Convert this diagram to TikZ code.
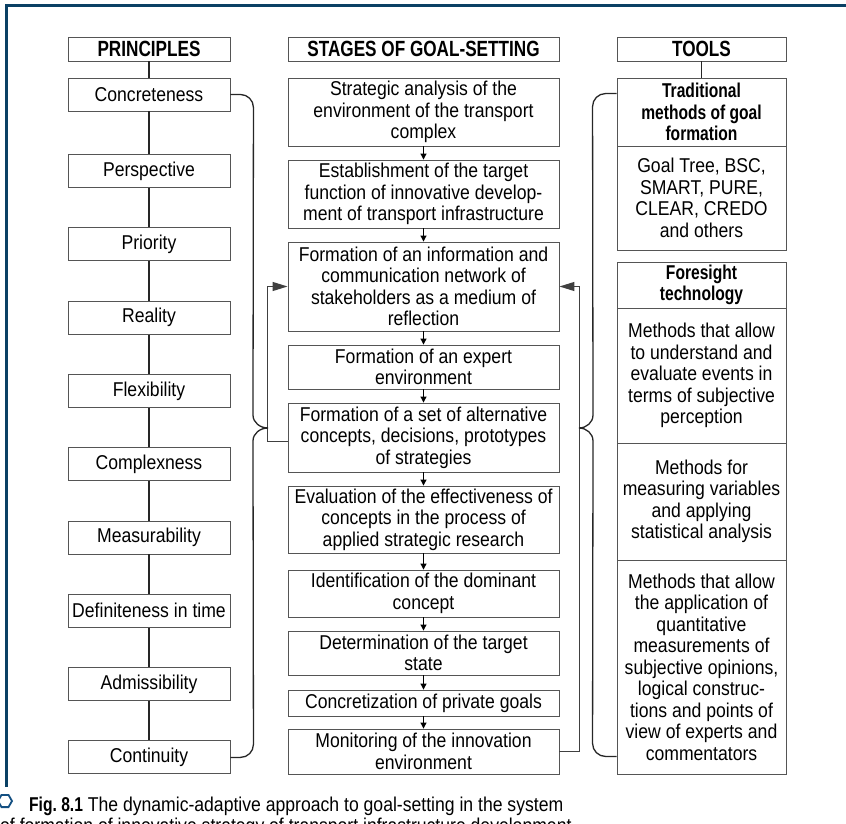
\documentclass[tikz,border=0pt]{standalone}
\usepackage{fontspec}
\setmainfont{Liberation Sans}[FakeStretch=0.88]
\newfontfamily\hdrfont{Liberation Sans}[FakeStretch=0.78]
\usetikzlibrary{arrows.meta,calc}
\definecolor{frameblue}{RGB}{10,64,100}
\definecolor{capblue}{RGB}{20,80,130}
\definecolor{boxgray}{RGB}{85,85,85}
\newcommand\mkbox[7]{%
  \node[#1, minimum width={((#5)-(#3))*1pt}, minimum height={((#6)-(#4))*1pt}] (#2) at ({((#3)+(#5))/2},{((#4)+(#6))/2}) {#7};}
\newcommand\pbox[3]{\mkbox{box}{#1}{68}{#2-16.5}{230}{#2+16.5}{#3}}
\begin{document}
\begin{tikzpicture}[x=1pt,y=-1pt,
  box/.style={draw=boxgray, line width=0.9pt, inner sep=0pt, align=center, font=\fontsize{20}{21.5}\selectfont},
  hdr/.style={box, font=\hdrfont\bfseries\fontsize{22}{24}\selectfont},
  ttl/.style={box, font=\hdrfont\bfseries\fontsize{20}{21.5}\selectfont},
  conn/.style={line width=1.3pt, draw=black!85},
  flow/.style={line width=1pt, draw=black, -{Triangle[length=6pt,width=6pt]}},
  bigarrow/.style={line width=1.3pt, draw=black!75, -{Triangle[length=15pt,width=9pt]}},
  captext/.style={anchor=base west, inner sep=0pt, font=\fontsize{20}{21.5}\selectfont}]
\useasboundingbox (0,0) rectangle (846,824);
% frame
\draw[frameblue, line width=3pt] (6,787) -- (6,6) -- (846,6);
% headers
\mkbox{hdr}{hP}{68}{37}{230}{61}{PRINCIPLES}
\mkbox{hdr}{hS}{288}{37}{559}{61}{STAGES OF GOAL-SETTING}
\mkbox{hdr}{hT}{617}{37}{786}{61}{TOOLS}
% principles
\pbox{p1}{94.5}{Concreteness}
\pbox{p2}{171}{Perspective}
\pbox{p3}{244.3}{Priority}
\pbox{p4}{317.6}{Reality}
\pbox{p5}{390.9}{Flexibility}
\pbox{p6}{464.2}{Complexness}
\pbox{p7}{537.5}{Measurability}
\pbox{p8}{610.8}{Definiteness in time}
\pbox{p9}{684.1}{Admissibility}
\pbox{p10}{757.4}{Continuity}
\foreach \a/\b in {hP/p1,p1/p2,p2/p3,p3/p4,p4/p5,p5/p6,p6/p7,p7/p8,p8/p9,p9/p10}
  \draw[conn] (\a.south) -- (\b.north);
% stages
\mkbox{box}{b1}{288}{78}{559}{146}{Strategic analysis of the\\environment of the transport\\complex}
\mkbox{box}{b2}{288}{160}{559}{228}{Establishment of the target\\function of innovative develop-\\ment of transport infrastructure}
\mkbox{box}{b3}{288}{242}{559}{331}{Formation of an information and\\communication network of\\stakeholders as a medium of\\reflection}
\mkbox{box}{b4}{288}{345}{559}{389}{Formation of an expert\\environment}
\mkbox{box}{b5}{288}{403}{559}{472}{Formation of a set of alternative\\concepts, decisions, prototypes\\of strategies}
\mkbox{box}{b6}{288}{486}{559}{553}{Evaluation of the effectiveness of\\concepts in the process of\\applied strategic research}
\mkbox{box}{b7}{288}{570}{559}{617}{Identification of the dominant\\concept}
\mkbox{box}{b8}{288}{631}{559}{675}{Determination of the target\\state}
\mkbox{box}{b9}{288}{690}{559}{716}{Concretization of private goals}
\mkbox{box}{b10}{288}{729}{559}{774}{Monitoring of the innovation\\environment}
\foreach \a/\b in {b1/b2,b2/b3,b3/b4,b4/b5,b5/b6,b6/b7,b7/b8,b8/b9,b9/b10}
  \draw[flow] (\a.south) -- (\b.north);
% tools
\mkbox{ttl}{tT}{617}{78}{786}{146}{Traditional\\methods of goal\\formation}
\mkbox{box}{tB}{617}{146}{786}{250}{Goal Tree, BSC,\\SMART, PURE,\\CLEAR, CREDO\\and others}
\mkbox{ttl}{fT}{617}{262}{786}{308}{Foresight\\technology}
\mkbox{box}{fA}{617}{308}{786}{443}{Methods that allow\\to understand and\\evaluate events in\\terms of subjective\\perception}
\mkbox{box}{fB}{617}{443}{786}{560}{Methods for\\measuring variables\\and applying\\statistical analysis}
\mkbox{box}{fC}{617}{560}{786}{774}{Methods that allow\\the application of\\quantitative\\measurements of\\subjective opinions,\\logical construc-\\tions and points of\\view of experts and\\commentators}
\draw[conn] (hT.south) -- (tT.north);
% feedback arrows
\draw[bigarrow] ([yshift=-4pt]b5.west) -| ($(b3.west)+(-20,0)$) -- (b3.west);
\draw[bigarrow] (b10.east) -| ($(b3.east)+(20,0)$) -- (b3.east);
% braces
\coordinate (ltip) at (268,428);
\coordinate (rtip) at (579,428);
\draw[conn] (p1.east) -- ++(10,0) to[out=0,in=90] ++(13,13) -- ($(ltip)+(-15,-13)$) to[out=-90,in=180] (ltip);
\draw[conn] (ltip) to[out=180,in=90] ($(ltip)+(-15,13)$) -- ($(p10.east)+(23,-13)$) to[out=-90,in=0] ($(p10.east)+(10,0)$) -- (p10.east);
\draw[conn] ($(tT.north west)+(0,16)$) -- ++(-11,0) to[out=180,in=90] ++(-13,13) -- ($(rtip)+(14,-13)$) to[out=-90,in=0] (rtip);
\draw[conn] (rtip) to[out=0,in=90] ($(rtip)+(14,13)$) -- ($(fC.south west)+(-24,-31)$) to[out=-90,in=180] ($(fC.south west)+(-11,-18)$) -- ($(fC.south west)+(0,-18)$);
% caption
\draw[capblue, line width=1.8pt] (12,801) -- (8.5,794.9) -- (1.5,794.9) -- (-2,801) -- (1.5,807.1) -- (8.5,807.1) -- cycle;
\node[captext] (cap1) at (29,811) {{\hdrfont\bfseries Fig.~8.1} The dynamic-adaptive approach to goal-setting in the system};
\node[captext] (cap2) at (0,832) {of formation of innovative strategy of transport infrastructure development};
\end{tikzpicture}
\end{document}
